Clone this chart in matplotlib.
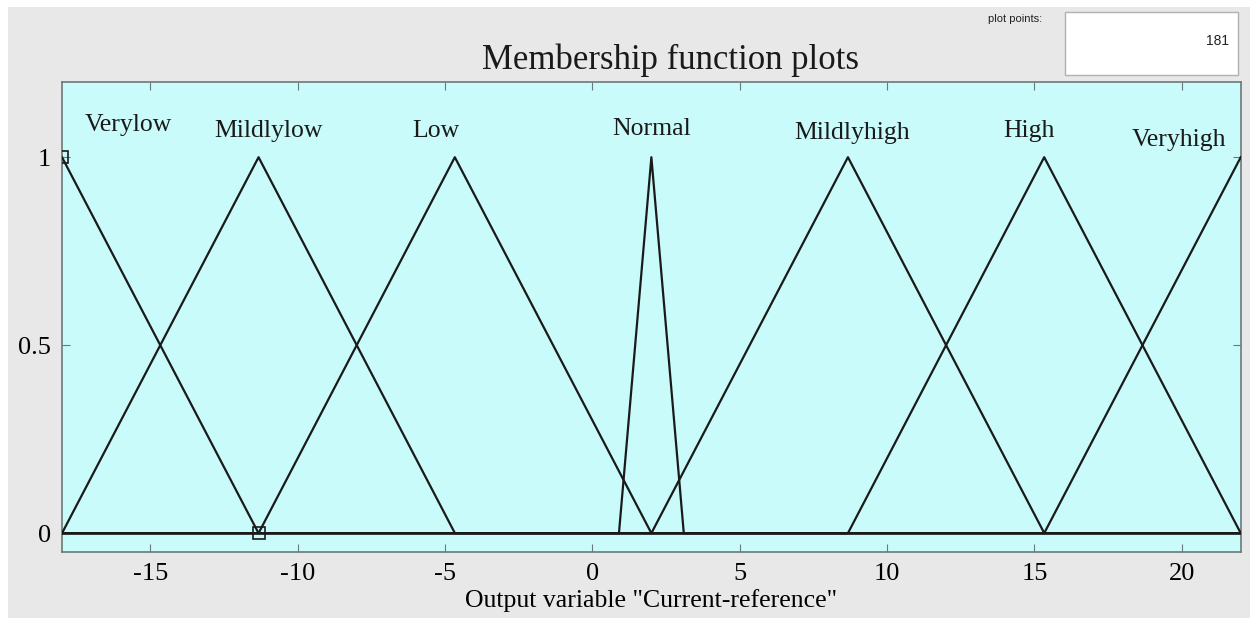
import numpy as np
import matplotlib.pyplot as plt
from matplotlib.patches import Rectangle

plt.rcParams['axes.unicode_minus'] = False

# Membership functions of the output variable (triangular: a, b, c)
mf_names = ['Verylow', 'Mildlylow', 'Low', 'Normal', 'Mildlyhigh', 'High', 'Veryhigh']
mf_params = [
    [-24.67, -18.0, -11.33],
    [-18.0, -11.33, -4.67],
    [-11.33, -4.67, 2.0],
    [0.9, 2.0, 3.1],
    [2.0, 8.67, 15.33],
    [8.67, 15.33, 22.0],
    [15.33, 22.0, 28.67],
]
# label anchor x for each name (the edge ones get pulled inside the axes)
label_x = [-15.75, -11.0, -5.3, 2.0, 8.8, 14.8, 19.9]
label_y = [1.085, 1.07, 1.07, 1.075, 1.065, 1.07, 1.045]

x_range = [-18, 22]
plot_points = 181

serif = ['Liberation Serif', 'DejaVu Serif']

fig = plt.figure(figsize=(12.5, 6.18), dpi=100, facecolor='#e8e8e8')
ax = fig.add_axes([0.0496, 0.1068, 0.943, 0.7605])
ax.set_facecolor('#c9fbfb')

x = np.linspace(x_range[0], x_range[1], plot_points)
for a, b, c in mf_params:
    xs = np.unique(np.concatenate([x, [a, b, c]]))
    xs = xs[(xs >= x_range[0]) & (xs <= x_range[1])]
    y = np.clip(np.minimum((xs - a) / (b - a), (c - xs) / (c - b)), 0, 1)
    ax.plot(xs, y, color='#1a1a1a', lw=1.6, zorder=3)

for name, lx, ly in zip(mf_names, label_x, label_y):
    ax.text(lx, ly, name, ha='center', va='center', fontsize=18.5,
            family=serif, color='#1a1a1a', clip_on=False)

# vertex markers of the selected function
sel = mf_params[0]
ax.plot([sel[1], sel[2]], [1, 0], ls='none', marker='s', ms=9,
        mfc='none', mec='#1a1a1a', mew=1.2, zorder=4)

ax.set_xlim(x_range)
ax.set_ylim(-0.05, 1.2)
ax.set_xticks([-15, -10, -5, 0, 5, 10, 15, 20])
ax.set_yticks([0, 0.5, 1])
ax.set_yticklabels(['0', '0.5', '1'])
ax.tick_params(direction='in', length=6, top=True, right=True,
               labelsize=19, color='#6a7a7a', pad=8)
for lab in ax.get_xticklabels() + ax.get_yticklabels():
    lab.set_family(serif)
for s in ax.spines.values():
    s.set_color('#6a7a7a')
    s.set_linewidth(1.2)

ax.set_xlabel('Output variable "Current-reference"', fontsize=18.5,
              family=serif, labelpad=3)
fig.text(0.536, 0.903, 'Membership function plots', ha='center', va='center',
         fontsize=25, family=serif, color='#1a1a1a')

# plot points box
fig.text(0.834, 0.97, 'plot points:', ha='right', va='center', fontsize=8,
         family='Liberation Sans', color='#222222')
fig.patches.append(Rectangle((0.852, 0.879), 0.138, 0.102, transform=fig.transFigure,
                             facecolor='white', edgecolor='#b0b0b0', lw=1))
fig.text(0.983, 0.933, str(plot_points), ha='right', va='center', fontsize=10,
         family='Liberation Sans', color='#222222')

# thin white border on top and left
fig.patches.append(Rectangle((0, 0.989), 1, 0.011, transform=fig.transFigure,
                             facecolor='white', edgecolor='none'))
fig.patches.append(Rectangle((0, 0), 0.006, 1, transform=fig.transFigure,
                             facecolor='white', edgecolor='none'))

fig.savefig('out.png', dpi=100, facecolor=fig.get_facecolor())
